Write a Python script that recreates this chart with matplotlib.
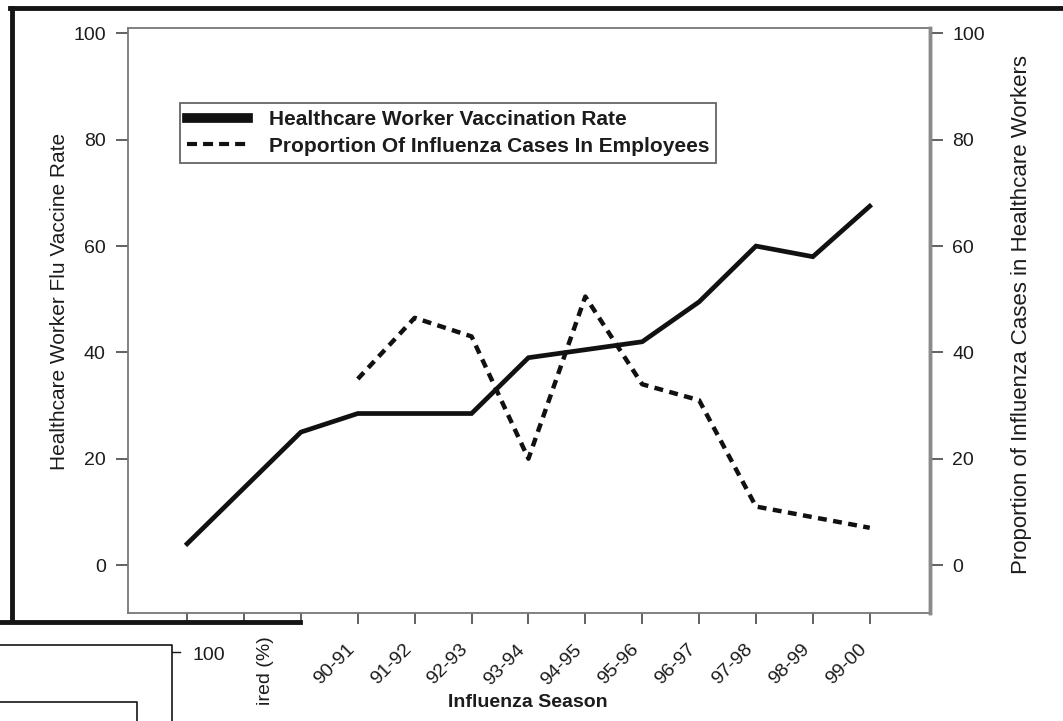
import matplotlib
matplotlib.use("Agg")
import matplotlib.pyplot as plt
from matplotlib.lines import Line2D
import numpy as np

plt.rcParams['font.family'] = ['Liberation Sans', 'DejaVu Sans']

# seasons on the x axis (first three labels are hidden under the overlapping figure)
seasons = ['87-88', '88-89', '89-90', '90-91', '91-92', '92-93', '93-94',
           '94-95', '95-96', '96-97', '97-98', '98-99', '99-00']
shown = [False, False, False] + [True] * 10

# healthcare worker vaccination rate (%)
vacc_rate = [4, 14.5, 25, 28.5, 28.5, 28.5, 39, 40.5, 42, 49.5, 60, 58, 67.5]
# proportion of influenza cases in employees (%)
flu_prop = [np.nan, np.nan, np.nan, 35, 46.5, 43, 20, 50.5, 34, 31, 11, 9, 7]

FS = 14
ink = '#1c1c1c'

fig = plt.figure(figsize=(10.63, 7.21), dpi=100)
ax = fig.add_axes([0.1204, 0.150, 0.7545, 0.811])
x = np.arange(len(seasons))

ax.plot(x, vacc_rate, color='#111111', lw=3.4, solid_joinstyle='miter',
        label='Healthcare Worker Vaccination Rate')
ax.plot(x, flu_prop, color='#111111', lw=3.2, linestyle=(0, (2.0, 1.45)),
        label='Proportion Of Influenza Cases In Employees')

ax.set_xlim(-1.04, 13.06)
ax.set_ylim(-9, 101)
ax.set_yticks([0, 20, 40, 60, 80, 100])
ax.set_xticks(x)
ax.set_xticklabels([s if v else '' for s, v in zip(seasons, shown)],
                   rotation=45, ha='right', va='bottom', rotation_mode='anchor',
                   fontsize=FS, color=ink)
ax.tick_params(axis='x', direction='out', length=8, width=1.3, color='#555555', pad=21)
ax.tick_params(axis='y', direction='out', length=9, width=1.3, color='#555555',
               labelsize=FS, labelcolor=ink, pad=7)
for s in ['left', 'bottom', 'top']:
    ax.spines[s].set_color('#777777')
    ax.spines[s].set_linewidth(1.3)
ax.spines['right'].set_color('#8a8a8a')
ax.spines['right'].set_linewidth(2.5)

ax.set_ylabel('Healthcare Worker Flu Vaccine Rate', fontsize=15, color=ink)
ax.yaxis.set_label_coords(-0.073, 0.533)
ax.set_xlabel('Influenza Season', fontsize=FS, color=ink, fontweight='bold')
ax.xaxis.set_label_coords(0.499, -0.139)

ax2 = ax.twinx()
ax2.set_ylim(-9, 101)
ax2.set_yticks([0, 20, 40, 60, 80, 100])
ax2.tick_params(axis='y', direction='out', length=9, width=1.3, color='#555555',
                labelsize=FS, labelcolor=ink, pad=7)
ax2.spines['right'].set_color('#8a8a8a')
ax2.spines['right'].set_linewidth(2.5)
ax2.spines['left'].set_visible(False)
ax2.spines['top'].set_visible(False)
ax2.spines['bottom'].set_visible(False)
ax2.set_ylabel('Proportion of Influenza Cases in Healthcare Workers', fontsize=16,
               color=ink)
ax2.yaxis.set_label_coords(1.101, 0.51)

handles = [Line2D([], [], color='#111111', lw=7),
           Line2D([], [], color='#111111', lw=3.0, linestyle=(0, (2.4, 1.45)))]
labels = ['Healthcare Worker Vaccination Rate',
          'Proportion Of Influenza Cases In Employees']
leg = ax.legend(handles, labels, loc='upper left', bbox_to_anchor=(0.065, 0.872),
                borderaxespad=0, fancybox=False, edgecolor='#666666', framealpha=1,
                handlelength=2.9, handletextpad=1.0, borderpad=0.35, labelspacing=0.35,
                prop={'size': 15, 'weight': 'bold'})
leg.get_frame().set_linewidth(1.3)
for t in leg.get_texts():
    t.set_color(ink)

# scan artifacts: border of the page and the corner of the next figure
def fline(xs, ys, lw):
    fig.add_artist(Line2D([v / 1063 for v in xs], [1 - v / 721 for v in ys],
                          color='#151515', lw=lw, transform=fig.transFigure))

fline([10, 1063], [8, 8], 3.5)
fline([12, 12], [8, 620], 3.5)
fline([0, 300], [622, 622], 3.5)
fline([0, 172, 172], [645, 645, 721], 1.2)
fline([172, 180], [652, 652], 1.0)
fline([0, 137, 137], [702, 702, 721], 1.2)
fig.text(192 / 1063, 1 - 655 / 721, '100', fontsize=FS, color=ink,
         va='center', ha='left')
fig.text(266 / 1063, 1 - 636 / 721, 'ired (%)', fontsize=FS, color=ink,
         rotation=90, va='top', ha='center')

fig.savefig('out.png', dpi=100)
